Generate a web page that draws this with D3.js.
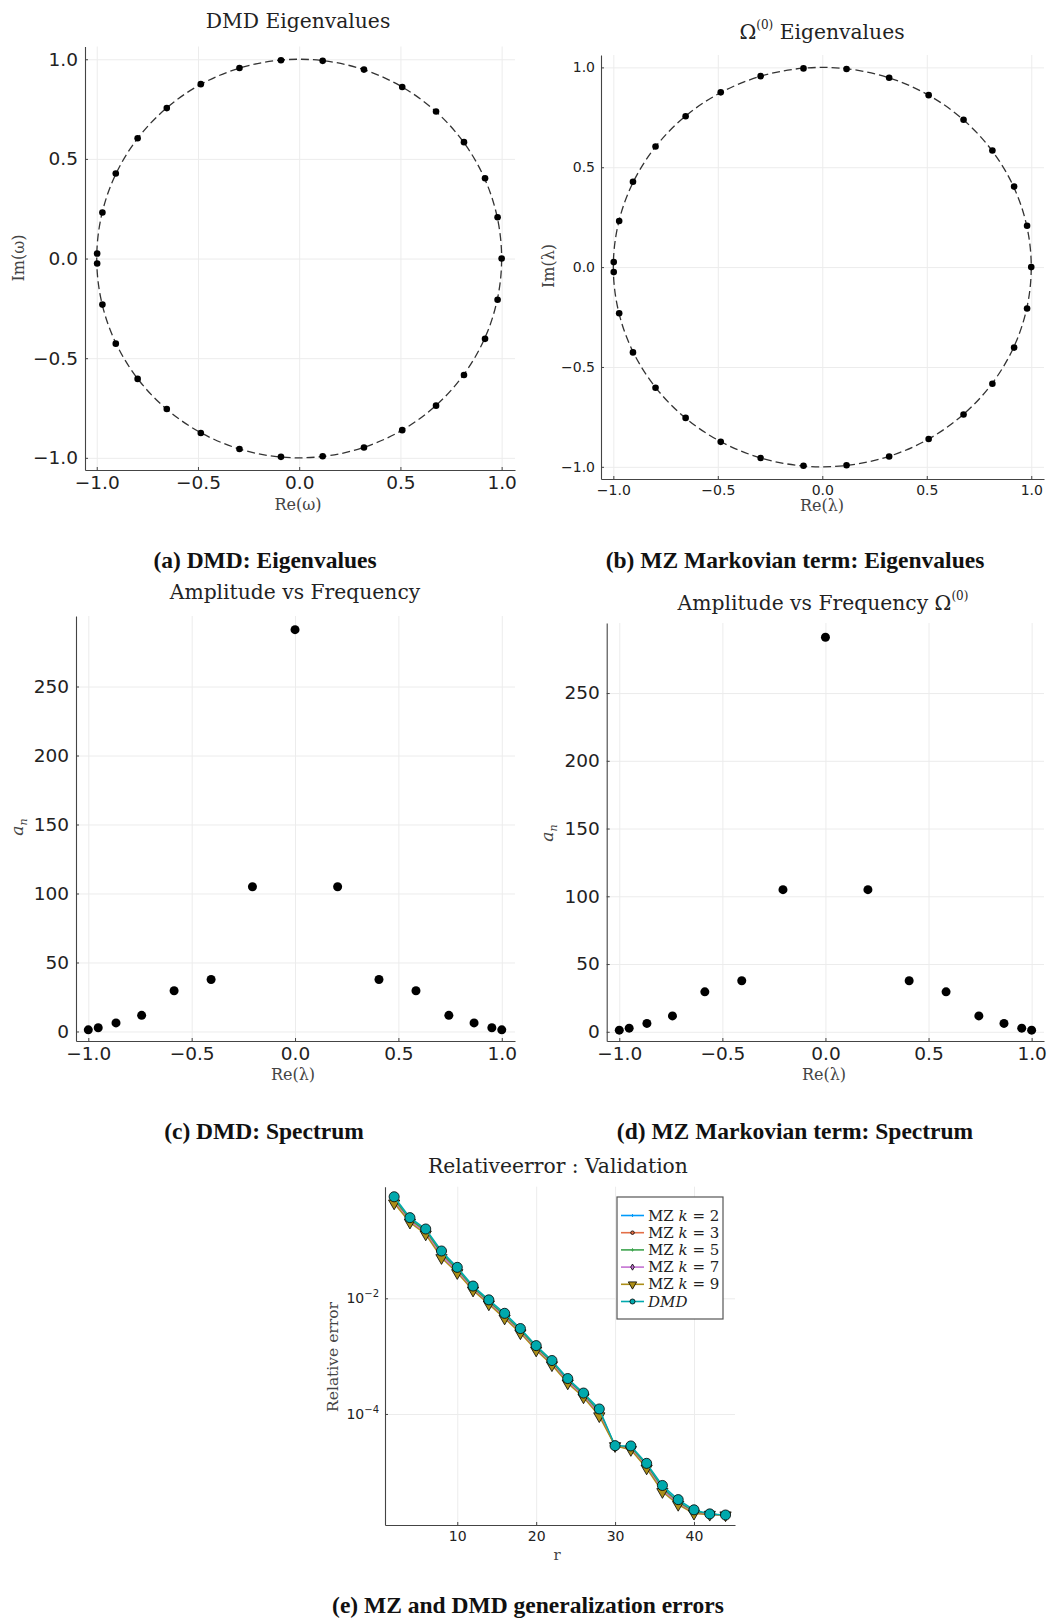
<!DOCTYPE html>
<html>
<head>
<meta charset="utf-8">
<script src="https://cdn.jsdelivr.net/npm/d3@7"></script>
<style>
  body { margin: 0; background: #fff; }
  svg { display: block; }
  .tick text { font-family: "DejaVu Sans", sans-serif; fill: #222; }
</style>
</head>
<body>
<svg id="chart"></svg>
<script>
var width = 1051;
var height = 1619;

// eigenvalues (a) and (b) (same spectrum in both)
var eigRe = [-0.998, -0.972, -0.906, -0.798, -0.654, -0.486, -0.295, -0.090, 0.116, 0.320, 0.509, 0.676, 0.814, 0.918, 0.980, 1.000,
             0.980, 0.918, 0.814, 0.676, 0.509, 0.320, 0.116, -0.090, -0.295, -0.486, -0.654, -0.798, -0.906, -0.972, -0.998];
var eigIm = [0.025, 0.231, 0.427, 0.604, 0.755, 0.875, 0.956, 0.995, 0.992, 0.948, 0.861, 0.738, 0.584, 0.403, 0.207, 0.000,
             -0.207, -0.403, -0.584, -0.738, -0.861, -0.948, -0.992, -0.995, -0.956, -0.875, -0.755, -0.604, -0.427, -0.231, -0.025];

// spectrum, panels (c) and (d)
var freqRe = [-1.0, -0.952, -0.866, -0.742, -0.585, -0.406, -0.206, 0.0, 0.206, 0.406, 0.585, 0.744, 0.866, 0.952, 1.0];
var amp = [1.2, 2.7, 6.2, 11.7, 29.5, 37.7, 104.9, 291.2, 104.9, 37.7, 29.5, 11.7, 6.2, 2.7, 1.2];

// validation errors, panel (e)
var rank = [2, 4, 6, 8, 10, 12, 14, 16, 18, 20, 22, 24, 26, 28, 30, 32, 34, 36, 38, 40, 42, 44];
var errK2 = [0.53, 0.235, 0.150, 0.0620, 0.0322, 0.0155, 0.0089, 0.0052, 0.0029, 0.00145, 0.00080, 0.00039, 0.00022, 0.000115, 2.8e-5, 2.7e-5, 1.33e-5, 5.4e-6, 3.1e-6, 2.1e-6, 1.85e-6, 1.78e-6];
var errK3 = [0.50, 0.225, 0.142, 0.0580, 0.0305, 0.0148, 0.0085, 0.0049, 0.0027, 0.00138, 0.00076, 0.00037, 0.00021, 0.000105, 2.8e-5, 2.6e-5, 1.25e-5, 5.0e-6, 2.9e-6, 2.0e-6, 1.84e-6, 1.78e-6];
var errK5 = [0.52, 0.230, 0.147, 0.0600, 0.0315, 0.0152, 0.0087, 0.0051, 0.0028, 0.00142, 0.00078, 0.00038, 0.000215, 0.000110, 2.8e-5, 2.65e-5, 1.3e-5, 5.2e-6, 3.0e-6, 2.05e-6, 1.84e-6, 1.78e-6];
var errK7 = [0.46, 0.215, 0.135, 0.0540, 0.0290, 0.0142, 0.0082, 0.0047, 0.0026, 0.00132, 0.00073, 0.00036, 0.000205, 0.000098, 2.8e-5, 2.5e-5, 1.2e-5, 4.8e-6, 2.8e-6, 1.95e-6, 1.83e-6, 1.78e-6];
var errK9 = [0.44, 0.205, 0.128, 0.0500, 0.0275, 0.0137, 0.0079, 0.0045, 0.0025, 0.00126, 0.00070, 0.00034, 0.000195, 0.000092, 2.8e-5, 2.4e-5, 1.15e-5, 4.5e-6, 2.7e-6, 1.9e-6, 1.82e-6, 1.78e-6];
var errDMD = [0.57, 0.248, 0.158, 0.0658, 0.0343, 0.0163, 0.0094, 0.0055, 0.0030, 0.00152, 0.00084, 0.00041, 0.00023, 0.000122, 2.83e-5, 2.8e-5, 1.40e-5, 5.8e-6, 3.3e-6, 2.2e-6, 1.87e-6, 1.79e-6];

var seriesKs = ['2', '3', '5', '7', '9'];

var serif = '"DejaVu Serif", serif';
var svg = d3.select('#chart')
    .attr('width', width)
    .attr('height', height);

svg.append('rect')
    .attr('width', width)
    .attr('height', height)
    .attr('fill', '#fff');

// builds grid + left/bottom axes for one panel, returns the scales
function makePanel(p){
    var x = d3.scaleLinear().domain(p.xDom).range([p.left, p.right]);
    var y = (p.log ? d3.scaleLog() : d3.scaleLinear()).domain(p.yDom).range([p.bottom, p.top]);

    svg.append('g')
        .attr('transform', 'translate(0,' + p.bottom + ')')
        .call(d3.axisBottom(x).tickValues(p.xTicks).tickSize(-(p.bottom - p.top)).tickFormat(''))
        .call(g => g.select('.domain').remove())
        .selectAll('line').attr('stroke', '#ececec').attr('stroke-width', 1);

    svg.append('g')
        .attr('transform', 'translate(' + p.left + ',0)')
        .call(d3.axisLeft(y).tickValues(p.yTicks).tickSize(-(p.right - p.left)).tickFormat(''))
        .call(g => g.select('.domain').remove())
        .selectAll('line').attr('stroke', '#ececec').attr('stroke-width', 1);

    var xAxis = svg.append('g')
        .attr('transform', 'translate(0,' + p.bottom + ')')
        .call(d3.axisBottom(x).tickValues(p.xTicks).tickFormat(p.xFmt)
            .tickSize(-3).tickSizeOuter(0).tickPadding(p.xPad));
    xAxis.selectAll('text').style('font-size', p.fontSize + 'px');

    var yAxis = svg.append('g')
        .attr('transform', 'translate(' + p.left + ',0)')
        .call(d3.axisLeft(y).tickValues(p.yTicks).tickFormat(p.yFmt)
            .tickSize(-3).tickSizeOuter(0).tickPadding(p.yPad));
    yAxis.selectAll('text').style('font-size', p.fontSize + 'px');

    [xAxis, yAxis].forEach(function(a){
        a.select('.domain').attr('stroke', '#444').attr('stroke-width', 1.1);
        a.selectAll('.tick line').attr('stroke', '#444');
    });

    return {x: x, y: y, yAxis: yAxis};
}

function addText(x, y, txt, size, opts){
    opts = opts || {};
    var t = svg.append('text')
        .attr('x', x)
        .attr('y', y)
        .style('font-family', opts.family || serif)
        .style('font-size', size + 'px')
        .style('font-weight', opts.weight || 'normal')
        .style('fill', opts.fill || '#222')
        .style('text-anchor', 'middle');
    if(opts.rotate) t.attr('transform', 'rotate(-90,' + x + ',' + y + ')');
    if(typeof txt === 'string') t.text(txt);
    else txt(t);
    return t;
}

var f1 = d3.format('.1f');
var eigTicks = [-1, -0.5, 0, 0.5, 1];

// ---------- (a) DMD eigenvalues ----------
var pa = makePanel({
    left: 85, right: 515, top: 46.5, bottom: 470,
    xDom: [-1.058, 1.066], yDom: [-1.061, 1.064],
    xTicks: eigTicks, yTicks: eigTicks, xFmt: f1, yFmt: f1,
    fontSize: 18.5, xPad: 6, yPad: 7
});

// ---------- (b) MZ eigenvalues ----------
var pb = makePanel({
    left: 601, right: 1044, top: 55, bottom: 479,
    xDom: [-1.059, 1.061], yDom: [-1.061, 1.062],
    xTicks: eigTicks, yTicks: eigTicks, xFmt: f1, yFmt: f1,
    fontSize: 14, xPad: 6, yPad: 6
});

[pa, pb].forEach(function(p){
    svg.append('ellipse')
        .attr('cx', p.x(0))
        .attr('cy', p.y(0))
        .attr('rx', p.x(1) - p.x(0))
        .attr('ry', p.y(0) - p.y(1))
        .attr('fill', 'none')
        .attr('stroke', '#333')
        .attr('stroke-width', 1.3)
        .attr('stroke-dasharray', '8,4');

    svg.append('g')
        .selectAll('circle')
        .data(eigRe)
        .enter()
        .append('circle')
            .attr('cx', d => p.x(d))
            .attr('cy', (d, i) => p.y(eigIm[i]))
            .attr('r', 3.3)
            .attr('fill', '#000');
});

// ---------- (c) / (d) spectra ----------
var ampTicks = [0, 50, 100, 150, 200, 250];
var pc = makePanel({
    left: 76, right: 515, top: 616, bottom: 1041,
    xDom: [-1.0595, 1.064], yDom: [-6.9, 301.1],
    xTicks: eigTicks, yTicks: ampTicks, xFmt: f1, yFmt: d3.format('d'),
    fontSize: 18.5, xPad: 6, yPad: 7
});
var pd = makePanel({
    left: 606.7, right: 1044, top: 623, bottom: 1041,
    xDom: [-1.061, 1.060], yDom: [-6.8, 301.7],
    xTicks: eigTicks, yTicks: ampTicks, xFmt: f1, yFmt: d3.format('d'),
    fontSize: 18.5, xPad: 6, yPad: 7
});

[pc, pd].forEach(function(p){
    svg.append('g')
        .selectAll('circle')
        .data(freqRe)
        .enter()
        .append('circle')
            .attr('cx', d => p.x(d))
            .attr('cy', (d, i) => p.y(amp[i]))
            .attr('r', 4.5)
            .attr('fill', '#000');
});

// ---------- (e) relative error ----------
var pe = makePanel({
    left: 385, right: 735, top: 1186.7, bottom: 1525, log: true,
    xDom: [0.84, 45.2], yDom: [Math.pow(10, -5.92), Math.pow(10, -0.07)],
    xTicks: [10, 20, 30, 40], yTicks: [1e-2, 1e-4], xFmt: d3.format('d'), yFmt: d => '',
    fontSize: 14, xPad: 6, yPad: 6
});

pe.yAxis.selectAll('.tick text').each(function(d){
    var t = d3.select(this);
    t.append('tspan').text('10');
    t.append('tspan')
        .attr('dy', '-6px')
        .style('font-size', '10px')
        .text('\u2212' + Math.round(-Math.log10(d)));
});

var errSeries = [
    {vals: errK2, color: '#009AFA', shape: d3.symbolCross, size: 10, stroke: 'none'},
    {vals: errK3, color: '#E36F47', shape: d3.symbolCircle, size: 18, stroke: '#000'},
    {vals: errK5, color: '#3EA44E', shape: d3.symbolCross, size: 10, stroke: 'none'},
    {vals: errK7, color: '#C371D2', shape: d3.symbolDiamond, size: 20, stroke: '#000'},
    {vals: errK9, color: '#AC8E18', shape: d3.symbolTriangle, size: 55, stroke: '#000', flip: true},
    {vals: errDMD, color: '#00A9AD', shape: d3.symbolCircle, size: 80, stroke: '#000'}
];

var line = d3.line()
    .x((d, i) => pe.x(rank[i]))
    .y(d => pe.y(d));

errSeries.forEach(function(s){
    svg.append('path')
        .datum(s.vals)
        .attr('d', line)
        .attr('fill', 'none')
        .attr('stroke', s.color)
        .attr('stroke-width', 1.4);

    svg.append('g')
        .selectAll('path')
        .data(s.vals)
        .enter()
        .append('path')
            .attr('d', d3.symbol().type(s.shape).size(s.size))
            .attr('transform', (d, i) => 'translate(' + pe.x(rank[i]) + ',' + pe.y(d) + ')' + (s.flip ? ' rotate(180)' : ''))
            .attr('fill', s.color)
            .attr('stroke', s.stroke)
            .attr('stroke-width', 0.8);
});

// legend
var legend = svg.append('g');
legend.append('rect')
    .attr('x', 617)
    .attr('y', 1197)
    .attr('width', 106)
    .attr('height', 122)
    .attr('fill', '#fff')
    .attr('stroke', '#555')
    .attr('stroke-width', 1.2);

errSeries.forEach(function(s, i){
    var ly = 1215.5 + i * 17.2;
    legend.append('line')
        .attr('x1', 621).attr('x2', 644)
        .attr('y1', ly).attr('y2', ly)
        .attr('stroke', s.color)
        .attr('stroke-width', 1.6);
    legend.append('path')
        .attr('d', d3.symbol().type(s.shape).size(s.size * (i === 5 ? 0.25 : 0.55)))
        .attr('transform', 'translate(632.5,' + ly + ')' + (s.flip ? ' rotate(180)' : ''))
        .attr('fill', s.color)
        .attr('stroke', s.stroke)
        .attr('stroke-width', 0.8);
    var t = legend.append('text')
        .attr('x', 648)
        .attr('y', ly + 5)
        .style('font-family', serif)
        .style('font-size', '15px')
        .style('fill', '#222');
    if(i < 5){
        t.append('tspan').text('MZ ');
        t.append('tspan').style('font-style', 'italic').text('k');
        t.append('tspan').text(' = ' + seriesKs[i]);
    } else {
        t.append('tspan').style('font-style', 'italic').text('DMD');
    }
});

// ---------- titles and axis labels ----------
var omega0 = function(t, pre, post){
    if(pre) t.append('tspan').text(pre);
    t.append('tspan').text('\u03A9');
    t.append('tspan').attr('dy', '-10px').style('font-size', '12px').text('(0)');
    if(post) t.append('tspan').attr('dy', '10px').text(post);
};

var titleSize = 20.3;
addText(298, 28, 'DMD Eigenvalues', titleSize);
addText(822, 39, t => omega0(t, null, ' Eigenvalues'), titleSize);
addText(295, 599, 'Amplitude vs Frequency', titleSize);
addText(823, 610, t => omega0(t, 'Amplitude vs Frequency ', null), titleSize);
addText(558, 1173, 'Relativeerror : Validation', titleSize);

addText(298, 510, 'Re(\u03C9)', 16, {fill: '#444'});
addText(24, 258, 'Im(\u03C9)', 16, {rotate: true, fill: '#444'});
addText(822, 511, 'Re(\u03BB)', 16, {fill: '#444'});
addText(554, 266, 'Im(\u03BB)', 16, {rotate: true, fill: '#444'});
addText(293, 1080, 'Re(\u03BB)', 16, {fill: '#444'});
addText(824, 1080, 'Re(\u03BB)', 16, {fill: '#444'});

[[23, 827], [553, 833]].forEach(function(pos){
    addText(pos[0], pos[1], function(t){
        t.append('tspan').style('font-style', 'italic').text('a');
        t.append('tspan').attr('dy', '4px').style('font-size', '11px').style('font-style', 'italic').text('n');
    }, 17, {rotate: true, fill: '#444'});
});

addText(338, 1357, 'Relative error', 15.5, {rotate: true, fill: '#444'});
addText(557, 1560, 'r', 15, {fill: '#444'});

// ---------- sub-figure captions ----------
var capFont = {family: '"Liberation Serif", "Times New Roman", serif', weight: 'bold', fill: '#111'};
addText(265, 568, '(a) DMD: Eigenvalues', 23.5, capFont);
addText(795, 568, '(b) MZ Markovian term: Eigenvalues', 23.5, capFont);
addText(264, 1139, '(c) DMD: Spectrum', 23.5, capFont);
addText(795, 1139, '(d) MZ Markovian term: Spectrum', 23.5, capFont);
addText(528, 1613, '(e) MZ and DMD generalization errors', 23.5, capFont);
</script>
</body>
</html>
